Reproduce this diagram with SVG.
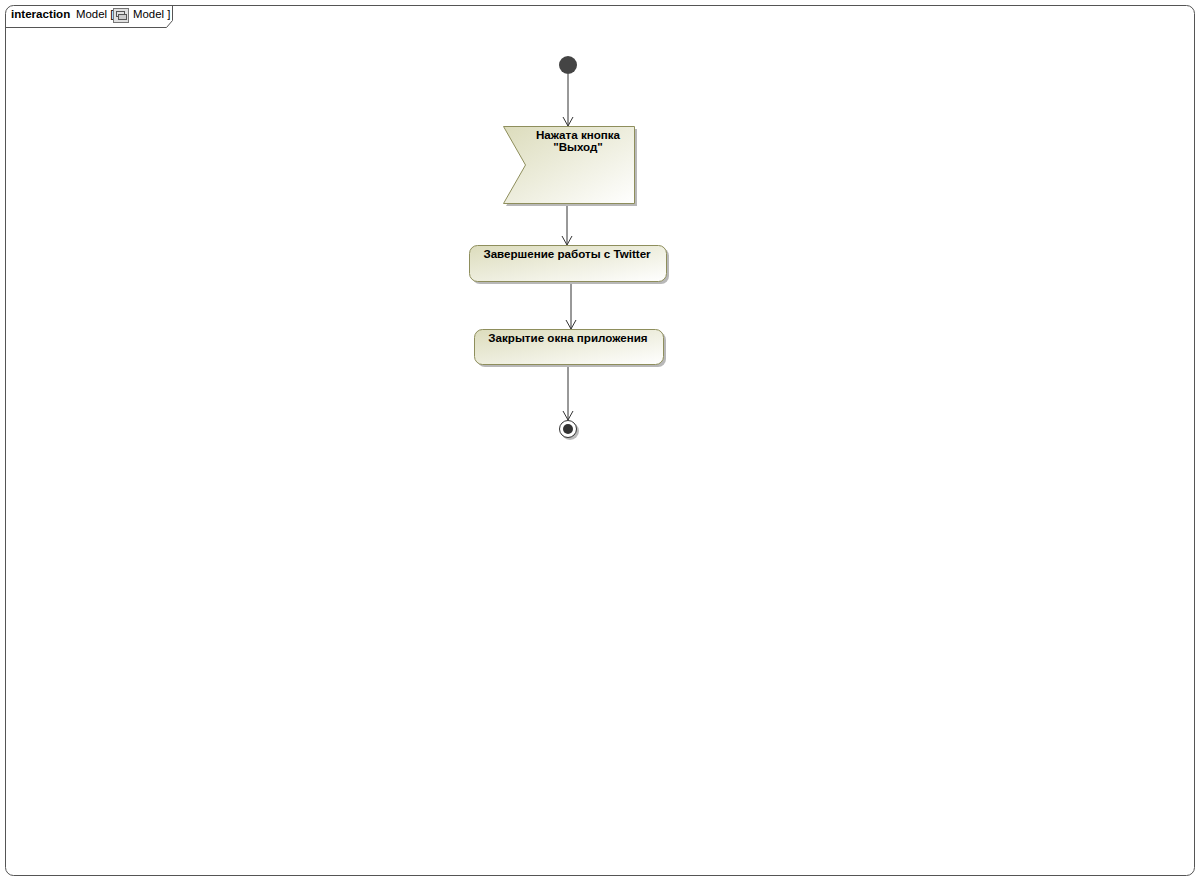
<svg xmlns="http://www.w3.org/2000/svg" width="1200" height="880" viewBox="0 0 1200 880">
<defs>
<linearGradient id="g" x1="0" y1="0" x2="1" y2="1">
<stop offset="0" stop-color="#dcdcbc"/>
<stop offset="1" stop-color="#ffffff"/>
</linearGradient>
<marker id="arr" markerWidth="12" markerHeight="12" refX="10" refY="6" orient="auto" markerUnits="userSpaceOnUse">
<path d="M1,1 L10,6 L1,11" fill="none" stroke="#333" stroke-width="1"/>
</marker>
<style>
.t{font-family:"Liberation Sans",Arial,sans-serif;font-size:11.6px;font-weight:bold;fill:#000}
.h{font-family:"Liberation Sans",Arial,sans-serif;font-size:11.4px;fill:#000}
.hb{font-family:"Liberation Sans",Arial,sans-serif;font-size:11.6px;font-weight:bold;fill:#000}
.n{fill:url(#g);stroke:#8e8e5c;stroke-width:1}
.s{fill:#b8b8b8}
.c{stroke:#333;stroke-width:1;fill:none}
</style>
</defs>
<g id="frame">
<rect x="5.5" y="5.5" width="1189" height="870" rx="8" fill="#fff" stroke="#555" stroke-width="1"/>
<path d="M5.5,27.5 L166.5,27.5 L172.5,20.5 L172.5,5.5" fill="none" stroke="#555" stroke-width="1"/>
<text x="11" y="18" class="hb">interaction</text>
<text x="76" y="18" class="h">Model [</text>
<rect x="113.5" y="8.5" width="15" height="14" fill="#e0e0e0" stroke="#777"/>
<rect x="116.5" y="11.5" width="8" height="5" fill="none" stroke="#555"/>
<rect x="118.5" y="14.5" width="8" height="5" fill="#ccc" stroke="#555"/>
<text x="133" y="18" class="h">Model ]</text>
</g>
<g id="connectors">
<line x1="568" y1="74" x2="568" y2="126" class="c" marker-end="url(#arr)"/>
<line x1="567" y1="204" x2="567" y2="245" class="c" marker-end="url(#arr)"/>
<line x1="571" y1="282" x2="571" y2="329" class="c" marker-end="url(#arr)"/>
<line x1="568" y1="365" x2="568" y2="420" class="c" marker-end="url(#arr)"/>
</g>
<g id="initial">
<circle cx="568" cy="65" r="9" fill="#444"/>
</g>
<g id="signal">
<polygon points="506,129 637,129 637,206 506,206 528,167" class="s"/>
<polygon points="503.5,126.5 634.5,126.5 634.5,203.5 503.5,203.5 525.5,165" class="n"/>
<text x="578" y="139" class="t" text-anchor="middle">Нажата кнопка</text>
<text x="578" y="151" class="t" text-anchor="middle">"Выход"</text>
</g>
<g id="action1">
<rect x="472" y="248" width="197" height="36" rx="8" class="s"/>
<rect x="469.5" y="245.5" width="197" height="36" rx="8" class="n"/>
<text x="567" y="258" class="t" text-anchor="middle">Завершение работы с Twitter</text>
</g>
<g id="action2">
<rect x="477" y="332" width="189" height="35" rx="8" class="s"/>
<rect x="474.5" y="329.5" width="189" height="35" rx="8" class="n"/>
<text x="568" y="342" class="t" text-anchor="middle">Закрытие окна приложения</text>
</g>
<g id="final">
<circle cx="570" cy="431" r="9" fill="#bbb"/>
<circle cx="568" cy="429" r="8.5" fill="#fff" stroke="#333" stroke-width="1"/>
<circle cx="568" cy="429" r="5" fill="#333"/>
</g>
</svg>
